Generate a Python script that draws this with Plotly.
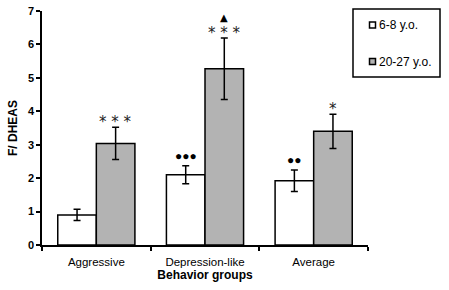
import plotly.graph_objects as go

categories = ["Aggressive", "Depression-like", "Average"]
young_vals = [0.90, 2.10, 1.92]
young_err = [0.17, 0.27, 0.32]
adult_vals = [3.04, 5.27, 3.40]
adult_err = [0.48, 0.92, 0.51]
young_label = "6-8 y.o."
adult_label = "20-27 y.o."
young_marks = ["", "●●●", "●●"]
adult_marks = ["* * *", "* * *", "*"]
adult_top_marks = ["", "▲", ""]

FONT = "Liberation Sans, Arial, sans-serif"
YOUNG_COLOR = "white"
ADULT_COLOR = "#b3b3b3"

fig = go.Figure()
fig.add_trace(go.Bar(
    x=categories, y=young_vals, name=young_label, showlegend=False,
    marker=dict(color=YOUNG_COLOR, line=dict(color="black", width=1.5)),
    error_y=dict(type="data", array=young_err, color="black", thickness=1.5, width=3.5),
))
fig.add_trace(go.Bar(
    x=categories, y=adult_vals, name=adult_label, showlegend=False,
    marker=dict(color=ADULT_COLOR, line=dict(color="black", width=1.5)),
    error_y=dict(type="data", array=adult_err, color="black", thickness=1.5, width=3.5),
))

bargap = 0.29
half = (1 - bargap) / 4  # offset of each bar center from category center

annotations = []
for i in range(len(categories)):
    if young_marks[i]:
        annotations.append(dict(
            x=i - half, y=young_vals[i] + young_err[i], xref="x", yref="y",
            text=young_marks[i], showarrow=False, yanchor="middle", yshift=10,
            font=dict(family=FONT, size=12, color="black")))
    if adult_marks[i]:
        annotations.append(dict(
            x=i + half, y=adult_vals[i] + adult_err[i], xref="x", yref="y",
            text=adult_marks[i], showarrow=False, yanchor="middle", yshift=5,
            font=dict(family="DejaVu Sans", size=15, color="#222222")))
    if adult_top_marks[i]:
        annotations.append(dict(
            x=i + half, y=adult_vals[i] + adult_err[i], xref="x", yref="y",
            text=adult_top_marks[i], showarrow=False, yanchor="middle", yshift=21,
            font=dict(family="DejaVu Sans", size=10, color="black")))

# Legend (drawn as box + swatches + text in plot-paper coordinates)
L, R, T, B = 42, 368, 11, 245  # plot area in window pixels
def px(xp):
    return (xp - L) / (R - L)
def py(yp):
    return (B - yp) / (B - T)

shapes = [dict(type="rect", xref="paper", yref="paper",
               x0=px(353), x1=px(440), y0=py(9), y1=py(77),
               line=dict(color="black", width=1.5), fillcolor="white", layer="above")]
for label, color, yc in [(young_label, YOUNG_COLOR, 25), (adult_label, ADULT_COLOR, 61.5)]:
    shapes.append(dict(type="rect", xref="paper", yref="paper",
                       x0=px(369.5), x1=px(375.5), y0=py(yc + 3), y1=py(yc - 3),
                       line=dict(color="black", width=1.5), fillcolor=color, layer="above"))
    annotations.append(dict(x=px(377), y=py(yc), xref="paper", yref="paper",
                            xanchor="left", yanchor="middle", showarrow=False,
                            text=label, font=dict(family=FONT, size=12, color="black")))

fig.update_layout(
    width=449, height=290,
    margin=dict(l=42, r=81, t=11, b=45, autoexpand=False),
    paper_bgcolor="white", plot_bgcolor="white",
    barmode="group", bargap=bargap, bargroupgap=0,
    font=dict(family=FONT, color="black"),
    showlegend=False,
    annotations=annotations,
    shapes=shapes,
)
fig.update_xaxes(
    type="category", tickson="boundaries", ticks="outside", ticklen=4,
    tickwidth=1.5, tickcolor="black", showline=True, linecolor="black", linewidth=1.5,
    showgrid=False, automargin=False, ticklabelstandoff=5,
    tickfont=dict(family=FONT, size=11.5, color="black"),
    title=dict(text="<b>Behavior groups</b>", font=dict(family=FONT, size=12, color="black"), standoff=2),
)
fig.update_yaxes(
    range=[0, 7], dtick=1, ticks="outside", ticklen=4, tickwidth=1.5, tickcolor="black",
    showline=True, linecolor="black", linewidth=1.5, showgrid=False, zeroline=False,
    automargin=False, ticklabeloverflow="allow",
    tickfont=dict(family=FONT, size=11, color="black", weight="bold"),
    title=dict(text="<b>F/ DHEAS</b>", font=dict(family=FONT, size=12, color="black"), standoff=8),
)

fig.write_html("out.html", config={"displayModeBar": False},
               post_script="document.body.style.margin='0';")
